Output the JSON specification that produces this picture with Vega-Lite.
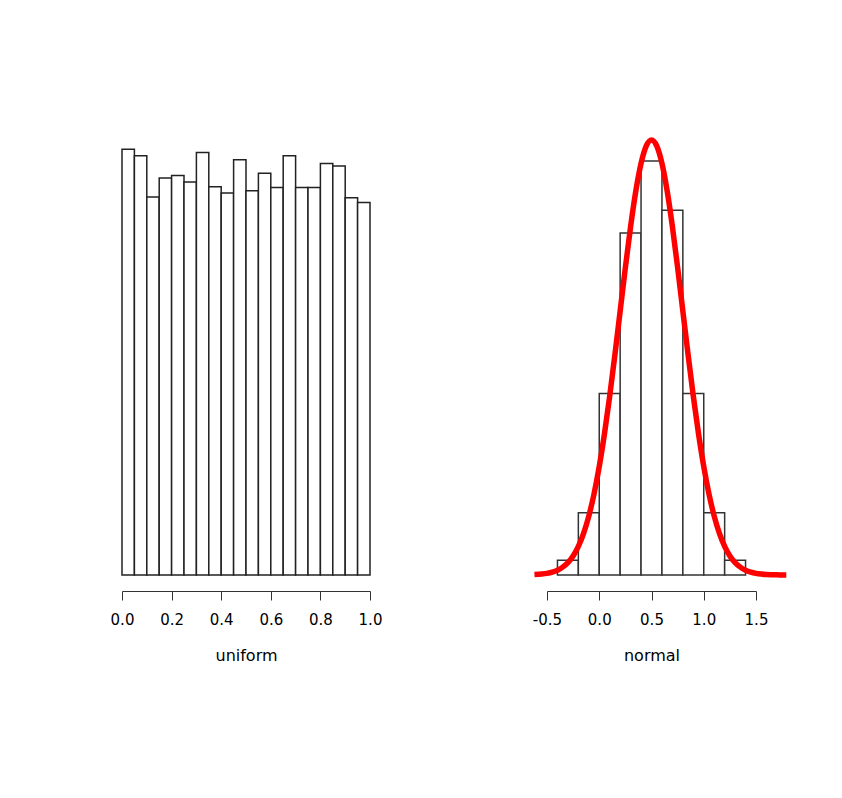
{
  "$schema": "https://vega.github.io/schema/vega-lite/v6.json",
  "background": "white",
  "padding": {"left": 110, "top": 120, "right": 10, "bottom": 10},
  "config": {
    "view": {"stroke": null},
    "font": "DejaVu Sans",
    "axis": {
      "grid": false,
      "domainColor": "#333333",
      "domainWidth": 1,
      "tickColor": "#333333",
      "tickWidth": 1,
      "tickSize": 9,
      "labelFontSize": 15,
      "labelColor": "#000000",
      "labelPadding": 12,
      "labelFlush": false,
      "labelOverlap": false,
      "labelBound": false,
      "titleFontSize": 16,
      "titleFontWeight": "normal",
      "titleColor": "#000000",
      "titlePadding": 20,
      "offset": 16
    }
  },
  "datasets": {
    "uniform": [
      {"bin_start": 0.00, "bin_end": 0.05, "count": 535},
      {"bin_start": 0.05, "bin_end": 0.10, "count": 527},
      {"bin_start": 0.10, "bin_end": 0.15, "count": 475},
      {"bin_start": 0.15, "bin_end": 0.20, "count": 499},
      {"bin_start": 0.20, "bin_end": 0.25, "count": 502},
      {"bin_start": 0.25, "bin_end": 0.30, "count": 494},
      {"bin_start": 0.30, "bin_end": 0.35, "count": 531},
      {"bin_start": 0.35, "bin_end": 0.40, "count": 488},
      {"bin_start": 0.40, "bin_end": 0.45, "count": 480},
      {"bin_start": 0.45, "bin_end": 0.50, "count": 522},
      {"bin_start": 0.50, "bin_end": 0.55, "count": 483},
      {"bin_start": 0.55, "bin_end": 0.60, "count": 505},
      {"bin_start": 0.60, "bin_end": 0.65, "count": 487},
      {"bin_start": 0.65, "bin_end": 0.70, "count": 527},
      {"bin_start": 0.70, "bin_end": 0.75, "count": 487},
      {"bin_start": 0.75, "bin_end": 0.80, "count": 487},
      {"bin_start": 0.80, "bin_end": 0.85, "count": 517},
      {"bin_start": 0.85, "bin_end": 0.90, "count": 514},
      {"bin_start": 0.90, "bin_end": 0.95, "count": 474},
      {"bin_start": 0.95, "bin_end": 1.00, "count": 468}
    ],
    "normal": [
      {"bin_start": -0.4, "bin_end": -0.2, "density": 0.045},
      {"bin_start": -0.2, "bin_end": 0.0, "density": 0.19},
      {"bin_start": 0.0, "bin_end": 0.2, "density": 0.555},
      {"bin_start": 0.2, "bin_end": 0.4, "density": 1.045},
      {"bin_start": 0.4, "bin_end": 0.6, "density": 1.265},
      {"bin_start": 0.6, "bin_end": 0.8, "density": 1.115},
      {"bin_start": 0.8, "bin_end": 1.0, "density": 0.555},
      {"bin_start": 1.0, "bin_end": 1.2, "density": 0.19},
      {"bin_start": 1.2, "bin_end": 1.4, "density": 0.045}
    ],
    "curve": [
      {"x": -0.62, "y": 0.0013},
      {"x": -0.55, "y": 0.0029},
      {"x": -0.5, "y": 0.0051},
      {"x": -0.45, "y": 0.0088},
      {"x": -0.4, "y": 0.0148},
      {"x": -0.35, "y": 0.024},
      {"x": -0.3, "y": 0.038},
      {"x": -0.25, "y": 0.0584},
      {"x": -0.2, "y": 0.0874},
      {"x": -0.15, "y": 0.1272},
      {"x": -0.1, "y": 0.18},
      {"x": -0.05, "y": 0.2477},
      {"x": 0.0, "y": 0.3316},
      {"x": 0.05, "y": 0.4317},
      {"x": 0.1, "y": 0.5467},
      {"x": 0.15, "y": 0.6733},
      {"x": 0.2, "y": 0.8066},
      {"x": 0.25, "y": 0.9397},
      {"x": 0.3, "y": 1.0648},
      {"x": 0.35, "y": 1.1736},
      {"x": 0.4, "y": 1.258},
      {"x": 0.45, "y": 1.3115},
      {"x": 0.5, "y": 1.3298},
      {"x": 0.55, "y": 1.3115},
      {"x": 0.6, "y": 1.258},
      {"x": 0.65, "y": 1.1736},
      {"x": 0.7, "y": 1.0648},
      {"x": 0.75, "y": 0.9397},
      {"x": 0.8, "y": 0.8066},
      {"x": 0.85, "y": 0.6733},
      {"x": 0.9, "y": 0.5467},
      {"x": 0.95, "y": 0.4317},
      {"x": 1.0, "y": 0.3316},
      {"x": 1.05, "y": 0.2477},
      {"x": 1.1, "y": 0.18},
      {"x": 1.15, "y": 0.1272},
      {"x": 1.2, "y": 0.0874},
      {"x": 1.25, "y": 0.0584},
      {"x": 1.3, "y": 0.038},
      {"x": 1.35, "y": 0.024},
      {"x": 1.4, "y": 0.0148},
      {"x": 1.45, "y": 0.0088},
      {"x": 1.5, "y": 0.0051},
      {"x": 1.55, "y": 0.0029},
      {"x": 1.6, "y": 0.0016},
      {"x": 1.65, "y": 0.0009},
      {"x": 1.7, "y": 0.0004},
      {"x": 1.75, "y": 0.0002},
      {"x": 1.79, "y": 0.0001}
    ]
  },
  "bounds": "flush",
  "spacing": 177,
  "hconcat": [
    {
      "width": 248,
      "height": 455,
      "data": {"name": "uniform"},
      "mark": {"type": "rect", "fill": "white", "stroke": "#222222", "strokeWidth": 1.5},
      "encoding": {
        "x": {
          "field": "bin_start", "type": "quantitative",
          "scale": {"domain": [0, 1], "nice": false, "zero": false},
          "axis": {"values": [0, 0.2, 0.4, 0.6, 0.8, 1.0], "format": ".1f", "title": "uniform"}
        },
        "x2": {"field": "bin_end"},
        "y": {
          "field": "count", "type": "quantitative",
          "scale": {"domain": [0, 571.8], "nice": false},
          "axis": null
        },
        "y2": {"datum": 0}
      }
    },
    {
      "width": 209,
      "height": 455,
      "layer": [
        {
          "data": {"name": "normal"},
          "mark": {"type": "rect", "fill": "white", "stroke": "#333333", "strokeWidth": 1.5},
          "encoding": {
            "x": {
              "field": "bin_start", "type": "quantitative",
              "scale": {"domain": [-0.5, 1.5], "nice": false, "zero": false},
              "axis": {
                "values": [-0.5, 0, 0.5, 1.0, 1.5],
                "labelExpr": "datum.value < 0 ? '-' + format(-datum.value, '.1f') : format(datum.value, '.1f')",
                "title": "normal"
              }
            },
            "x2": {"field": "bin_end"},
            "y": {
              "field": "density", "type": "quantitative",
              "scale": {"domain": [0, 1.3906], "nice": false},
              "axis": null
            },
            "y2": {"datum": 0}
          }
        },
        {
          "data": {"name": "curve"},
          "mark": {"type": "line", "color": "#ff0000", "strokeWidth": 5.5, "interpolate": "monotone", "clip": false},
          "encoding": {
            "x": {"field": "x", "type": "quantitative"},
            "y": {"field": "y", "type": "quantitative"}
          }
        }
      ]
    }
  ]
}
